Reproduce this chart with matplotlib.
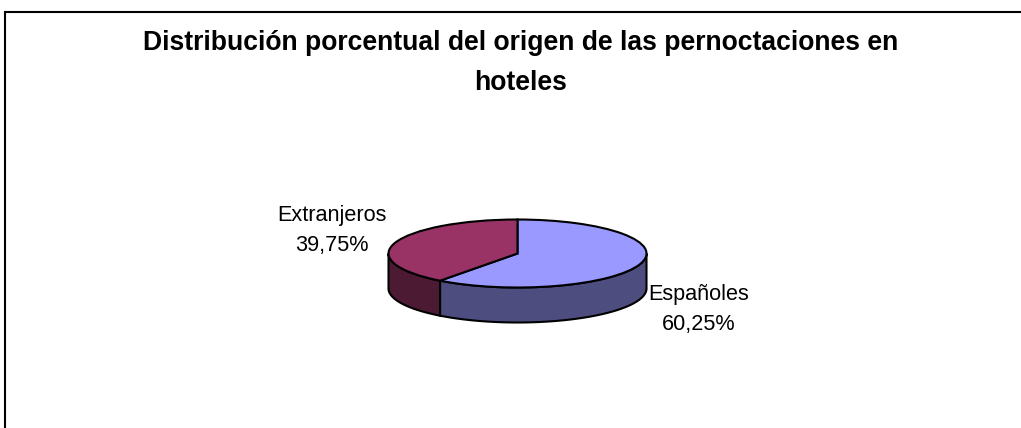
import numpy as np
from matplotlib import pyplot as plt
from matplotlib.lines import Line2D

plt.rcParams['font.family'] = ['Liberation Sans', 'DejaVu Sans']

#-------------------------------------------------------------
title = "Distribución porcentual del origen de las pernoctaciones en\nhoteles"
categories = ["Españoles", "Extranjeros"]
values = [60.25, 39.75]
top_colors = ["#9999FF", "#993366"]
wall_colors = ["#4D4D80", "#4D1A33"]

#-------------------------------------------------------------
W, H = 1021, 428
cx, cy = 517.5, 253.5   # ellipse centre, px
rx, ry = 129, 34        # ellipse radii, px
depth = 35 / ry         # wall height in pie units

fig = plt.figure(figsize=(W/100, H/100), dpi=100)
ax = fig.add_axes([0, 0, 1, 1])

# the pie is a unit circle, the limits squash it into the ellipse
ax.pie(values, colors=top_colors, startangle=90, counterclock=False,
       wedgeprops=dict(edgecolor="black", linewidth=1.5, zorder=3))
ax.set_aspect("auto")

#-------------------------------------------------------------
# walls: only the front half of the rim shows
start = 0.0
for v, color in zip(values, wall_colors):
    end = start + v/sum(values)*360
    a = max(start, 90)
    b = min(end, 270)
    if a < b:
        t = np.radians(np.linspace(a, b, 80))
        x, y = np.sin(t), np.cos(t)
        ax.fill(np.r_[x, x[::-1]], np.r_[y, y[::-1]-depth],
                facecolor=color, edgecolor="black", linewidth=1.5, zorder=2)
    start = end
#end-for

ax.set_xlim(-cx/rx, (W-cx)/rx)
ax.set_ylim(-(H-cy)/ry, cy/ry)
ax.axis("off")

#-------------------------------------------------------------
def label(i):
    return f"{categories[i]}\n{values[i]:.2f}%".replace(".", ",")
#end-def

fig.text(698.5/W, 1-309.5/H, label(0), ha="center", va="center", fontsize=15.6, linespacing=1.62)
fig.text(332/W, 1-230.5/H, label(1), ha="center", va="center", fontsize=15.6, linespacing=1.62)
fig.text(520.5/W, 1-63/H, title, ha="center", va="center", fontsize=19.1, fontweight="bold", linespacing=1.72)

# chart frame, cut off at the right and bottom of the image
fig.add_artist(Line2D([5/W, 5/W, 1], [0, 1-12/H, 1-12/H], transform=fig.transFigure,
                      color="black", linewidth=1.5, solid_joinstyle="miter"))

fig.savefig("out.png", dpi=100, facecolor="white")
